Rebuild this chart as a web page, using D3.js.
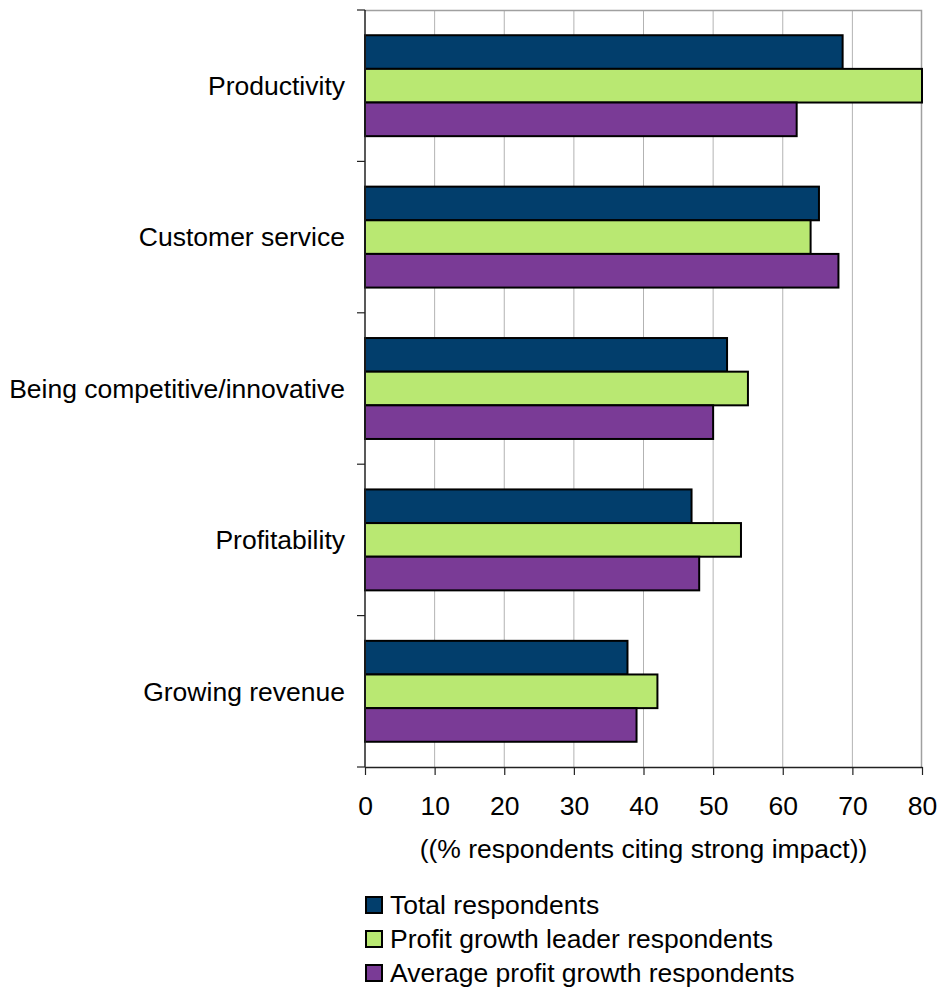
<!DOCTYPE html>
<html>
<head>
<meta charset="utf-8">
<script src="https://cdn.jsdelivr.net/npm/d3@7"></script>
<style>
  body { margin: 0; background: #fff; }
  text { font-family: "Liberation Sans", Arial, sans-serif; fill: #000; }
</style>
</head>
<body>
<svg width="938" height="987"></svg>
<script>
// Data
let categories = ["Productivity", "Customer service", "Being competitive/innovative", "Profitability", "Growing revenue"];
let seriesNames = ["Total respondents", "Profit growth leader respondents", "Average profit growth respondents"];
let totalValues = [68.6, 65.2, 52, 46.9, 37.7];
let leaderValues = [80, 64, 55, 54, 42];
let averageValues = [62, 68, 50, 48, 39];
let xTicks = [0, 10, 20, 30, 40, 50, 60, 70, 80];

let colors = ["#023e6c", "#b9e872", "#7a3b96"];
let seriesValues = [totalValues, leaderValues, averageValues];
let fontSize = "26.5px";

let svg = d3.select("svg"),
  margin = { top: 10, right: 16, bottom: 220, left: 365 },
  width = 938 - margin.left - margin.right,
  height = 987 - margin.top - margin.bottom,
  g = svg.append("g").attr("transform", "translate(" + margin.left + "," + margin.top + ")");

let x = d3.scaleLinear().domain([0, 80]).range([0, width]);
let y = d3.scaleBand().domain(categories).range([0, height]);
let ySub = d3.scaleBand().domain(d3.range(seriesNames.length))
  .range([0, y.bandwidth()]).paddingOuter(0.75).paddingInner(0);

// Grid lines
g.append("g")
  .selectAll("line")
  .data(xTicks.slice(1, -1))
  .enter().append("line")
  .attr("x1", d => x(d)).attr("x2", d => x(d))
  .attr("y1", 0).attr("y2", height)
  .attr("stroke", "#b3b3b3").attr("stroke-width", 1);

// Plot border (top / right)
g.append("path")
  .attr("d", "M0,0.5H" + (width - 0.5) + "V" + height)
  .attr("fill", "none").attr("stroke", "#a0a0a0").attr("stroke-width", 1.5);

// Bars
categories.forEach((cat, i) => {
  seriesValues.forEach((vals, s) => {
    g.append("rect")
      .attr("x", x(0))
      .attr("y", y(cat) + ySub(s))
      .attr("width", x(vals[i]) - x(0))
      .attr("height", ySub.bandwidth())
      .attr("fill", colors[s])
      .attr("stroke", "#000")
      .attr("stroke-width", 2);
  });
});

// Y axis (ticks on band boundaries)
let yAxis = g.append("g").attr("class", "axis axis_y");
yAxis.append("line")
  .attr("x1", 0).attr("x2", 0).attr("y1", 0).attr("y2", height)
  .attr("stroke", "#222").attr("stroke-width", 1.5);
yAxis.selectAll("line.tick")
  .data(d3.range(categories.length + 1))
  .enter().append("line")
  .attr("class", "tick")
  .attr("x1", -8).attr("x2", 0)
  .attr("y1", d => d * y.step()).attr("y2", d => d * y.step())
  .attr("stroke", "#222").attr("stroke-width", 1.2);
yAxis.selectAll("text")
  .data(categories)
  .enter().append("text")
  .attr("x", -20)
  .attr("y", d => y(d) + y.bandwidth() / 2)
  .attr("dy", "0.35em")
  .style("font-size", fontSize)
  .style("text-anchor", "end")
  .text(d => d);

// X axis
let xAxis = g.append("g")
  .attr("class", "axis axis_x")
  .attr("transform", "translate(0," + height + ")")
  .call(d3.axisBottom(x).tickValues(xTicks).tickSize(8).tickSizeOuter(0).tickPadding(21));
xAxis.select(".domain").attr("stroke", "#222").attr("stroke-width", 1.5);
xAxis.selectAll(".tick line").attr("stroke", "#222").attr("stroke-width", 1.2);
xAxis.selectAll(".tick text")
  .style("font-size", fontSize)
  .style("font-family", "'Liberation Sans', Arial, sans-serif")
  .attr("fill", "#000");

xAxis.append("text")
  .attr("x", width / 2)
  .attr("y", 91)
  .style("font-size", fontSize)
  .style("text-anchor", "middle")
  .text("((% respondents citing strong impact))");

// Legend
let legend = svg.append("g").attr("class", "legend")
  .attr("transform", "translate(366,897)");
seriesNames.forEach((name, i) => {
  legend.append("rect")
    .attr("x", 0)
    .attr("y", i * 34)
    .attr("width", 16)
    .attr("height", 16)
    .attr("fill", colors[i])
    .attr("stroke", "#000")
    .attr("stroke-width", 2);
  legend.append("text")
    .attr("x", 24)
    .attr("y", i * 34 + 17)
    .style("font-size", fontSize)
    .text(name);
});
</script>
</body>
</html>
